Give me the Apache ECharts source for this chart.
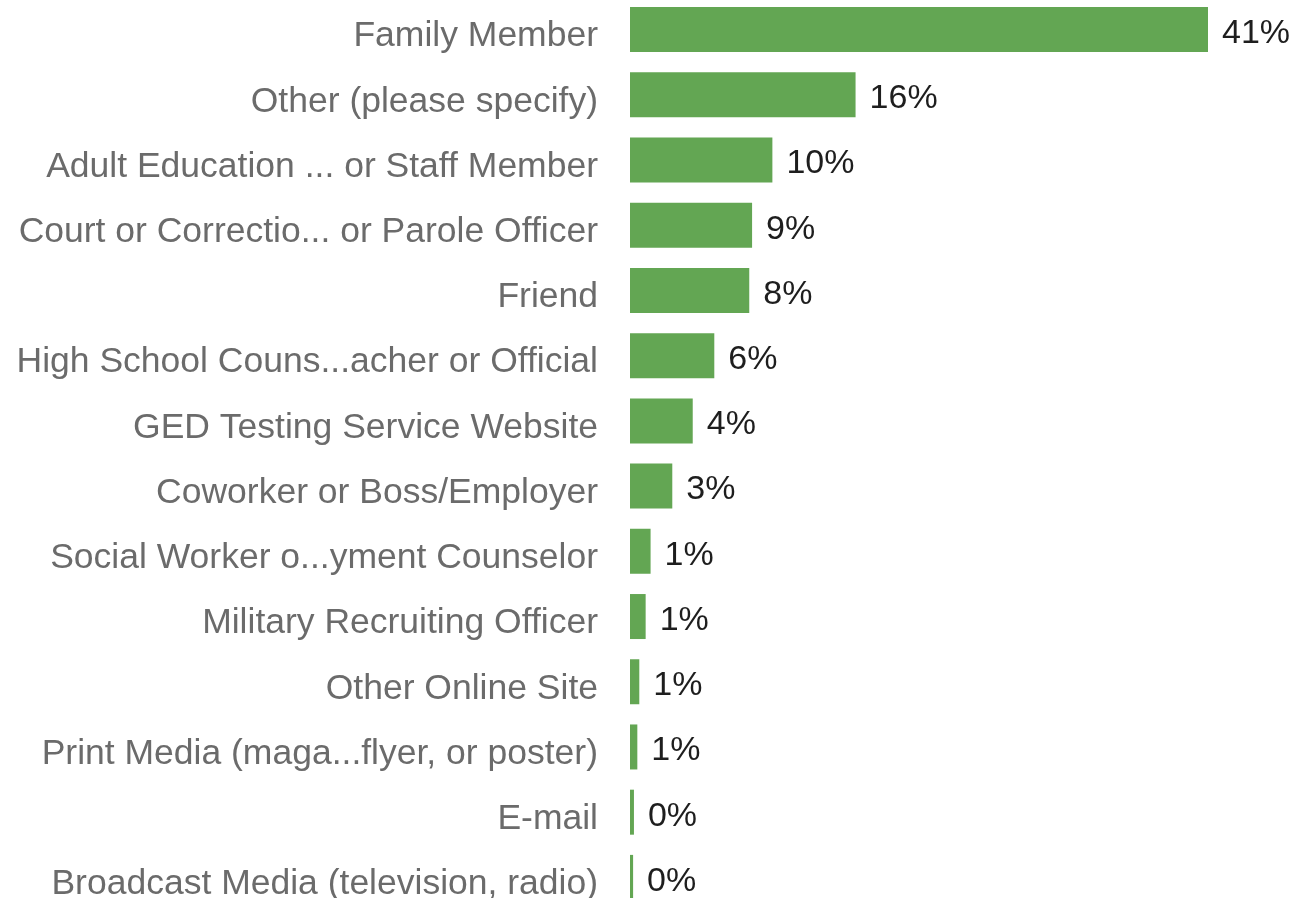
<!DOCTYPE html>
<html>
<head>
<meta charset="utf-8">
<script src="https://cdn.jsdelivr.net/npm/echarts@6/dist/echarts.min.js"></script>
<style>
  html, body { margin: 0; padding: 0; background: #fff; }
  #main { width: 1297px; height: 898px; }
</style>
</head>
<body>
<div id="main"></div>
<script>
// answer options, top to bottom
const categories = [
  "Family Member",
  "Other (please specify)",
  "Adult Education ... or Staff Member",
  "Court or Correctio... or Parole Officer",
  "Friend",
  "High School Couns...acher or Official",
  "GED Testing Service Website",
  "Coworker or Boss/Employer",
  "Social Worker o...yment Counselor",
  "Military Recruiting Officer",
  "Other Online Site",
  "Print Media (maga...flyer, or poster)",
  "E-mail",
  "Broadcast Media (television, radio)"
];
// percent of respondents
const values = [41, 16, 10.1, 8.66, 8.46, 5.98, 4.45, 3.0, 1.46, 1.11, 0.66, 0.52, 0.28, 0.22];

var chartDom = document.getElementById("main");
var myChart = echarts.init(chartDom);
var option;

option = {
  animation: false,
  grid: {
    left: 630,
    width: 578,
    top: -3,
    height: 913,
    containLabel: false,
    outerBoundsMode: "none",
  },
  xAxis: {
    type: "value",
    min: 0,
    max: 41,
    show: false,
  },
  yAxis: {
    type: "category",
    inverse: true,
    data: categories,
    axisLine: { show: false },
    axisTick: { show: false },
    axisLabel: {
      margin: 32,
      formatter: (v) => "{c|" + v + "}",
      rich: {
        c: {
          color: "#6b6b6b",
          fontFamily: "Liberation Sans, Arial, sans-serif",
          fontSize: 35.5,
          padding: [14, 0, 0, 0],
        },
      },
    },
  },
  series: [
    {
      type: "bar",
      data: values,
      barWidth: 45,
      itemStyle: { color: "#63a653" },
      label: {
        show: true,
        position: "right",
        distance: 14,
        offset: [0, 4],
        color: "#1e1e1e",
        fontFamily: "Liberation Sans, Arial, sans-serif",
        fontSize: 34,
        formatter: (p) => Math.round(p.value) + "%",
      },
    },
  ],
};

option && myChart.setOption(option);
</script>
</body>
</html>
